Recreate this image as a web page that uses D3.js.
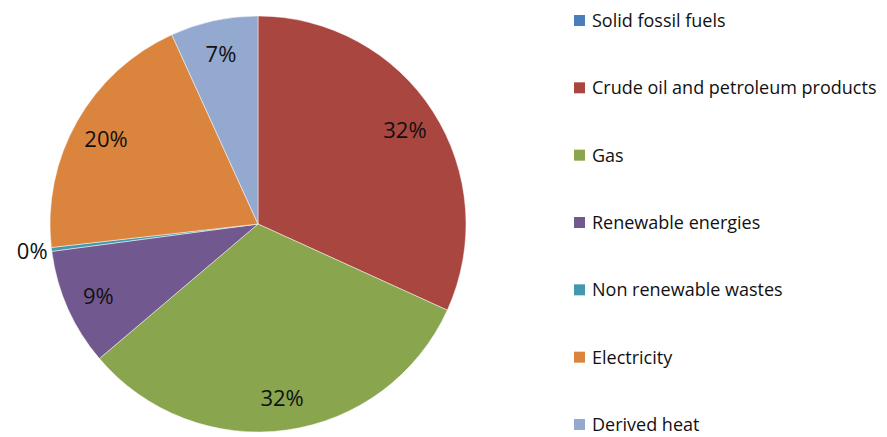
<!DOCTYPE html>
<html>
<head>
<meta charset="utf-8">
<script src="https://cdn.jsdelivr.net/npm/d3@7"></script>
<style>
  html, body { margin: 0; padding: 0; background: #fff; }
  svg { display: block; font-family: "Open Sans", Lato, sans-serif; }
</style>
</head>
<body>
<svg id="chart" width="887" height="437"></svg>
<script>
// Energy consumption shares by product (%)
const categories = [
  "Solid fossil fuels",
  "Crude oil and petroleum products",
  "Gas",
  "Renewable energies",
  "Non renewable wastes",
  "Electricity",
  "Derived heat"
];
const shares = [0.0, 31.8, 32.0, 9.1, 0.3, 20.0, 6.8];
const shareLabels = ["", "32%", "32%", "9%", "0%", "20%", "7%"];
const colors = ["#4A7EBB", "#A9463F", "#89A54E", "#71588F", "#4198AF", "#DB843D", "#93A9CF"];

const svg = d3.select("#chart");
const cx = 258, cy = 224, R = 208;

const pie = d3.pie().sort(null).value(d => d.value);
const data = categories.map((c, i) => ({ name: c, value: shares[i], label: shareLabels[i], color: colors[i] }));
const arcs = pie(data);

const arc = d3.arc().innerRadius(0).outerRadius(R);
const labelArc = d3.arc().innerRadius(R * 0.84).outerRadius(R * 0.84);

const g = svg.append("g").attr("transform", `translate(${cx},${cy})`);

g.selectAll("path.slice")
  .data(arcs)
  .join("path")
  .attr("class", "slice")
  .attr("d", arc)
  .attr("fill", d => d.data.color)
  .attr("stroke", "#fff")
  .attr("stroke-width", 0.8)
  .attr("stroke-opacity", 0.6);

// Value labels: inside for large slices, outside for the thin one
g.selectAll("text.val")
  .data(arcs.filter(d => d.data.label !== ""))
  .join("text")
  .attr("class", "val")
  .attr("font-size", 22)
  .attr("fill", "#111")
  .attr("dominant-baseline", "central")
  .each(function(d) {
    const sel = d3.select(this);
    const mid = (d.startAngle + d.endAngle) / 2;
    if (d.endAngle - d.startAngle < 0.05) {
      const r = R + 4;
      sel.attr("x", Math.sin(mid) * r)
         .attr("y", -Math.cos(mid) * r)
         .attr("text-anchor", "end");
    } else {
      const [x, y] = labelArc.centroid(d);
      sel.attr("x", x).attr("y", y).attr("text-anchor", "middle");
    }
  })
  .text(d => d.data.label);

// Legend
const legendY = d3.scalePoint().domain(categories).range([20, 424]);
const legend = svg.append("g");
const items = legend.selectAll("g")
  .data(data)
  .join("g")
  .attr("transform", d => `translate(574,${legendY(d.name)})`);
items.append("rect")
  .attr("x", 0).attr("y", -5)
  .attr("width", 11).attr("height", 11)
  .attr("fill", d => d.color);
items.append("text")
  .attr("x", 18).attr("y", 0)
  .attr("dominant-baseline", "central")
  .attr("font-size", 18)
  .attr("fill", "#111")
  .text(d => d.name);
</script>
</body>
</html>
